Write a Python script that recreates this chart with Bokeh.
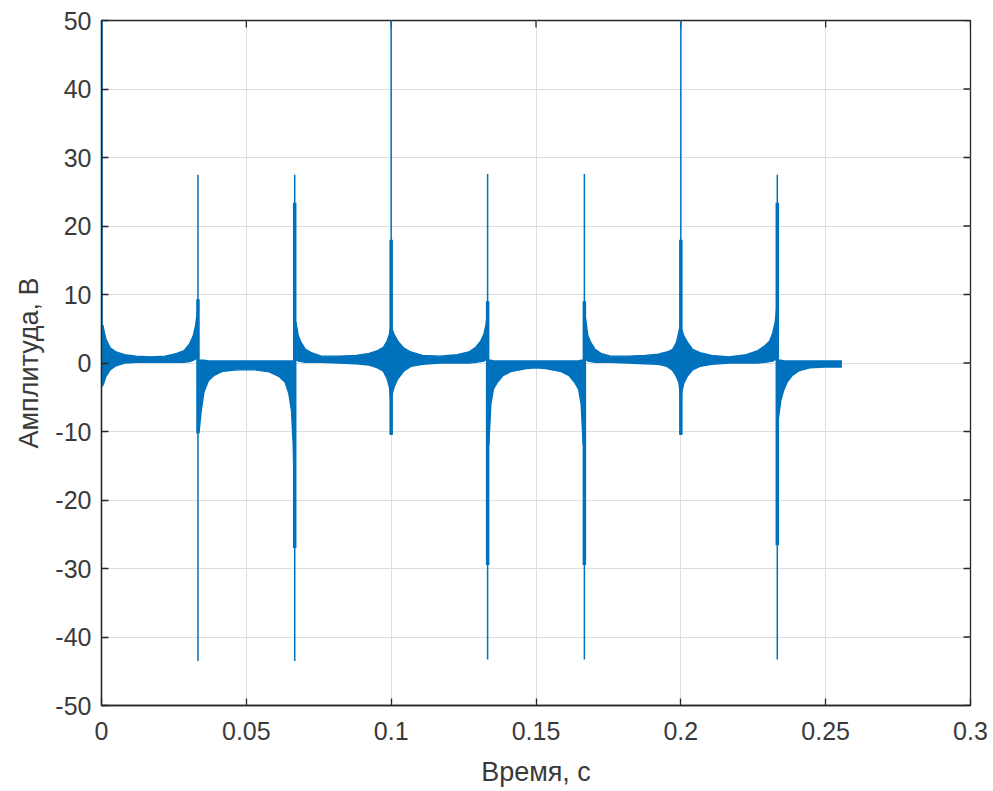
import math
from bokeh.plotting import figure
from bokeh.models import ColumnDataSource, FixedTicker, Range1d
from bokeh.embed import file_html
from bokeh.resources import INLINE

# ---------------- data ----------------
x_ticks = [0.0, 0.05, 0.1, 0.15, 0.2, 0.25, 0.3]
x_tick_labels = ["0", "0.05", "0.1", "0.15", "0.2", "0.25", "0.3"]
y_ticks = [-50, -40, -30, -20, -10, 0, 10, 20, 30, 40, 50]
y_tick_labels = ["-50", "-40", "-30", "-20", "-10", "0", "10", "20", "30", "40", "50"]

# spikes: time, tip minimum, tip maximum, thick (dense) part low / high
spike_t = [0.0002, 0.0333, 0.0667, 0.1000, 0.1333, 0.1667, 0.2000, 0.2333]
spike_lo = [-3.5, -43.5, -43.5, -10.5, -43.3, -43.3, -10.5, -43.3]
spike_hi = [60.0, 27.5, 27.5, 60.0, 27.6, 27.6, 60.0, 27.5]
dense_lo = [-3.0, -10.3, -27.0, -10.5, -29.5, -29.5, -10.5, -26.6]
dense_hi = [5.5, 9.3, 23.4, 18.0, 9.0, 9.0, 18.0, 23.4]

# envelope of the ringing band between spikes (time, upper edge, lower edge)
seg_a_t = [0.0005, 0.0015, 0.0030, 0.0050, 0.0080, 0.0120, 0.0170, 0.0220, 0.0260, 0.0285, 0.0304, 0.0317, 0.0325, 0.0331]
seg_a_up = [5.4, 3.5, 2.2, 1.6, 1.2, 1.0, 0.9, 1.0, 1.4, 1.8, 2.8, 4.0, 5.5, 7.5]
seg_a_lo = [-3.3, -2.0, -1.0, -0.4, 0.0, 0.1, 0.1, 0.1, 0.1, 0.1, 0.2, 0.4, 0.6, 1.0]

seg_b_t = [0.0337, 0.0344, 0.0354, 0.0369, 0.0389, 0.0419, 0.0469, 0.0529, 0.0579, 0.0614, 0.0634, 0.0647, 0.0656, 0.0662, 0.0665]
seg_b_up = [0.4, 0.4, 0.4, 0.3, 0.3, 0.3, 0.3, 0.3, 0.3, 0.3, 0.3, 0.3, 0.3, 0.3, 0.3]
seg_b_lo = [-10.0, -7.0, -4.2, -2.6, -1.8, -1.2, -1.0, -1.0, -1.3, -2.0, -2.8, -4.5, -7.0, -12.0, -18.0]

seg_c_t = [0.0671, 0.0679, 0.0689, 0.0704, 0.0724, 0.0759, 0.0819, 0.0879, 0.0924, 0.0953, 0.0973, 0.0986, 0.0994, 0.0998]
seg_c_up = [6.0, 4.0, 3.0, 2.0, 1.5, 1.0, 1.0, 1.1, 1.4, 1.8, 2.3, 3.2, 4.2, 5.2]
seg_c_lo = [0.5, 0.3, 0.2, 0.1, 0.1, 0.1, 0.0, -0.1, -0.3, -0.7, -1.2, -2.3, -3.5, -5.2]

seg_d_t = [0.1002, 0.1010, 0.1023, 0.1043, 0.1068, 0.1108, 0.1168, 0.1228, 0.1268, 0.1292, 0.1309, 0.1320, 0.1327, 0.1331]
seg_d_up = [5.0, 4.2, 3.2, 2.2, 1.6, 1.1, 1.0, 1.2, 1.6, 2.3, 3.2, 4.2, 5.5, 7.0]
seg_d_lo = [-4.8, -3.5, -2.3, -1.2, -0.5, -0.2, 0.0, 0.0, 0.0, 0.1, 0.2, 0.3, 0.5, 0.8]

seg_e_t = [0.1337, 0.1344, 0.1353, 0.1367, 0.1387, 0.1417, 0.1467, 0.1500, 0.1533, 0.1583, 0.1613, 0.1633, 0.1647, 0.1656, 0.1663]
seg_e_up = [0.4, 0.4, 0.3, 0.3, 0.3, 0.3, 0.3, 0.3, 0.3, 0.3, 0.3, 0.3, 0.3, 0.4, 0.4]
seg_e_lo = [-12.0, -6.0, -3.8, -2.8, -1.8, -1.2, -0.8, -0.7, -0.8, -1.2, -1.8, -2.8, -3.8, -6.0, -12.0]

seg_f_t = [0.1671, 0.1679, 0.1689, 0.1704, 0.1724, 0.1757, 0.1817, 0.1877, 0.1922, 0.1952, 0.1972, 0.1985, 0.1993, 0.1998]
seg_f_up = [6.5, 4.0, 3.0, 2.0, 1.4, 1.0, 1.0, 1.1, 1.3, 1.6, 2.0, 3.0, 4.5, 5.5]
seg_f_lo = [0.5, 0.3, 0.2, 0.1, 0.1, 0.1, 0.0, -0.1, -0.2, -0.5, -1.1, -2.0, -2.8, -4.5]

seg_g_t = [0.2002, 0.2010, 0.2023, 0.2041, 0.2066, 0.2106, 0.2166, 0.2226, 0.2266, 0.2290, 0.2307, 0.2318, 0.2326, 0.2331]
seg_g_up = [5.0, 4.0, 3.0, 2.0, 1.5, 1.1, 0.9, 1.2, 1.8, 2.5, 3.2, 4.5, 6.0, 8.0]
seg_g_lo = [-4.5, -3.0, -1.9, -1.0, -0.5, -0.2, 0.0, 0.0, 0.0, 0.1, 0.2, 0.3, 0.5, 0.8]

seg_h_t = [0.2337, 0.2345, 0.2355, 0.2367, 0.2385, 0.2410, 0.2445, 0.2495, 0.2556]
seg_h_up = [0.4, 0.4, 0.3, 0.3, 0.3, 0.3, 0.3, 0.3, 0.3]
seg_h_lo = [-8.0, -5.5, -4.0, -2.8, -1.8, -1.1, -0.7, -0.6, -0.6]

segments = [
    (seg_a_t, seg_a_up, seg_a_lo),
    (seg_b_t, seg_b_up, seg_b_lo),
    (seg_c_t, seg_c_up, seg_c_lo),
    (seg_d_t, seg_d_up, seg_d_lo),
    (seg_e_t, seg_e_up, seg_e_lo),
    (seg_f_t, seg_f_up, seg_f_lo),
    (seg_g_t, seg_g_up, seg_g_lo),
    (seg_h_t, seg_h_up, seg_h_lo),
]

# ---------------- styling ----------------
BLUE = "#0072BD"
AX = "#262626"
LBL = "#3a3a3a"
FONT = "Liberation Sans"

x0, x1 = x_ticks[0], x_ticks[-1]
y0, y1 = y_ticks[0], y_ticks[-1]

p = figure(
    frame_width=869, frame_height=685,
    x_range=Range1d(x0, x1), y_range=Range1d(y0, y1),
    output_backend="svg", toolbar_location=None,
    min_border_left=101, min_border_top=20, min_border_right=20, min_border_bottom=82,
    background_fill_color="white", border_fill_color="white",
)

p.outline_line_color = AX
p.outline_line_width = 1.3

xt = FixedTicker(ticks=x_ticks)
yt = FixedTicker(ticks=y_ticks)
p.xaxis.ticker = xt
p.yaxis.ticker = yt
p.xaxis.major_label_overrides = {t: s for t, s in zip(x_ticks, x_tick_labels)}
p.yaxis.major_label_overrides = {t: s for t, s in zip(y_ticks, y_tick_labels)}

for ax in (p.xaxis[0], p.yaxis[0]):
    ax.axis_line_color = AX
    ax.axis_line_width = 1.3
    ax.major_tick_line_color = AX
    ax.major_tick_line_width = 1.3
    ax.major_tick_in = 7
    ax.major_tick_out = 0
    ax.minor_tick_line_color = None
    ax.major_label_text_font = FONT
    ax.major_label_text_font_size = "25px"
    ax.major_label_text_color = LBL
    ax.axis_label_text_font = FONT
    ax.axis_label_text_font_size = "27px"
    ax.axis_label_text_font_style = "normal"
    ax.axis_label_text_color = LBL

p.xaxis.axis_label = "Время, с"
p.yaxis.axis_label = "Амплитуда, В"
p.xaxis.major_label_standoff = 16
p.yaxis.major_label_standoff = 10
p.xaxis.axis_label_standoff = 14
p.yaxis.axis_label_standoff = 8

p.xgrid.grid_line_color = "#dedede"
p.ygrid.grid_line_color = "#dedede"

# inward ticks on the top and right sides of the box
p.ray(x=[x1] * len(y_ticks), y=y_ticks, length=7, length_units="screen",
      angle=math.pi, line_color=AX, line_width=1.3)
p.ray(x=x_ticks, y=[y1] * len(x_ticks), length=7, length_units="screen",
      angle=-math.pi / 2, line_color=AX, line_width=1.3)

# ---------------- signal ----------------
for ts, up, lo in segments:
    src = ColumnDataSource(dict(t=ts, up=up, lo=lo))
    p.varea(x="t", y1="lo", y2="up", source=src, fill_color=BLUE)
    p.line(x="t", y="up", source=src, line_color=BLUE, line_width=1.4)
    p.line(x="t", y="lo", source=src, line_color=BLUE, line_width=1.4)

spk = ColumnDataSource(dict(t=spike_t, lo=spike_lo, hi=spike_hi, dlo=dense_lo, dhi=dense_hi))
p.segment(x0="t", y0="lo", x1="t", y1="hi", source=spk, line_color=BLUE, line_width=1.5)
p.segment(x0="t", y0="dlo", x1="t", y1="dhi", source=spk, line_color=BLUE, line_width=3.5)

open("out.html", "w").write(file_html(p, INLINE))
